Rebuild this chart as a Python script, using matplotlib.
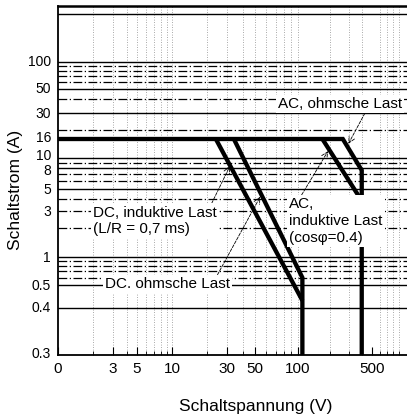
import matplotlib
matplotlib.use('Agg')
import matplotlib.pyplot as plt
import matplotlib.transforms as mtransforms
import numpy as np

plt.rcParams['font.family'] = ['Liberation Sans', 'DejaVu Sans']

# --- Data ---
# switching voltage (V) / switching current (A)
ac_res_v = [1, 265, 400, 400]
ac_res_i = [16, 16, 7.6, 0.3]
ac_ind_v = [170, 400]
ac_ind_i = [16, 3.8]
dc_res_v = [34, 110, 110]
dc_res_i = [16, 0.6, 0.3]
dc_ind_v = [24, 110]
dc_ind_i = [16, 0.43]

x_ticks = [1, 3, 5, 10, 30, 50, 100, 500]
x_ticklabels = ['0', '3', '5', '10', '30', '50', '100', '500']
y_ticks = [0.3, 0.4, 0.5, 1, 3, 5, 8, 10, 16, 30, 50, 100]
y_ticklabels = ['0.3', '0.4', '0.5', '1', '3', '5', '8', '10', '16', '30', '50', '100']

# gridlines of the printed log paper
y_grid_major = [300, 100, 50, 30, 10, 8, 5, 1, 0.5, 0.4]
y_grid_minor = [90, 80, 70, 60, 40, 20, 9, 7, 6, 4, 3, 2, 0.9, 0.8, 0.7, 0.6]
x_grid = [2, 3, 4, 5, 6, 7, 8, 9, 10, 20, 30, 40, 50, 60, 70, 80, 90,
          100, 200, 300, 400, 600, 700, 800, 900]

# the scanned paper is not a clean log scale -> piecewise log scale
X_SCALE_VAL = [1, 3, 5, 10, 30, 50, 100, 500, 1080]
X_SCALE_PX = [58, 113, 137, 172, 227, 255, 298, 372, 407]
Y_SCALE_VAL = [0.3, 0.4, 0.5, 1, 3, 5, 8, 10, 16, 30, 50, 100, 300, 400]
Y_SCALE_PX = [355, 308, 285, 257, 211, 189, 168, 158, 139, 113, 89, 62, 14, 6]


def paper_scale(vals, px, flip=False):
    lv = np.log10(vals)
    p = np.asarray(px, dtype=float)
    if flip:
        p = -p

    def fwd(v):
        with np.errstate(divide='ignore', invalid='ignore'):
            return np.interp(np.log10(v), lv, p)

    def inv(u):
        return 10 ** np.interp(u, p, lv)

    return fwd, inv


W, H = 407, 417
fig = plt.figure(figsize=(W / 100, H / 100), dpi=100)
ax = fig.add_axes([58 / W, 1 - 355 / H, (W - 58) / W, (355 - 6) / H])

ax.set_xscale('function', functions=paper_scale(X_SCALE_VAL, X_SCALE_PX))
ax.set_yscale('function', functions=paper_scale(Y_SCALE_VAL, Y_SCALE_PX, flip=True))
ax.set_xlim(1, 1080)
ax.set_ylim(0.3, 400)

# grid
for v in x_grid:
    ax.axvline(v, color='0.55', lw=0.6, ls=(0, (1, 2)), zorder=1)
for v in y_grid_major:
    ax.axhline(v, color='black', lw=1.0, zorder=1)
for v in y_grid_minor:
    ax.axhline(v, color='black', lw=0.9, ls=(0, (7, 2, 1, 2)), zorder=1)

# limit curves
style = dict(color='black', lw=3.1, solid_joinstyle='miter', solid_capstyle='butt', zorder=2)
ax.plot(ac_res_v, ac_res_i, **style)
ax.plot(ac_ind_v, ac_ind_i, **style)
ax.plot(dc_res_v, dc_res_i, **style)
ax.plot(dc_ind_v, dc_ind_i, **style)

# labels with leader lines
box = dict(boxstyle='square,pad=0.15', fc='white', ec='none')
arrow = dict(arrowstyle='->', color='black', lw=0.6, ls='--', shrinkA=0, shrinkB=1)
fs = 11


def px2ax(x, y):
    return ((x - 58) / 349, (355 - y) / 349)


ax.annotate('AC, ohmsche Last', xy=(295, 13.8), xycoords='data',
            xytext=px2ax(340, 104), textcoords='axes fraction',
            ha='center', va='center', fontsize=fs, bbox=box, zorder=4,
            arrowprops=dict(arrow, relpos=(0.71, 0)))
ax.annotate('AC,\ninduktive Last\n(cos\u03c6=0.4)', xy=(195, 12.2), xycoords='data',
            xytext=px2ax(289, 221), textcoords='axes fraction',
            ha='left', va='center', multialignment='left', linespacing=1.25,
            fontsize=fs, bbox=box, zorder=4,
            arrowprops=dict(arrow, relpos=(0.12, 1)))
ax.annotate('DC, induktive Last\n(L/R = 0,7 ms)', xy=(32, 8.6), xycoords='data',
            xytext=px2ax(93, 221), textcoords='axes fraction',
            ha='left', va='center', multialignment='left', linespacing=1.25,
            fontsize=fs, bbox=box, zorder=4,
            arrowprops=dict(arrow, relpos=(0.95, 1)))
ax.annotate('DC. ohmsche Last', xy=(55, 4.3), xycoords='data',
            xytext=px2ax(105, 284), textcoords='axes fraction',
            ha='left', va='center', fontsize=fs, bbox=box, zorder=4,
            arrowprops=dict(arrow, relpos=(0.89, 1)))

# axes styling
ax.spines['right'].set_visible(False)
ax.spines['top'].set_linewidth(1.8)
ax.spines['left'].set_linewidth(1.3)
ax.spines['bottom'].set_linewidth(1.3)

ax.set_xticks(x_ticks)
ax.set_xticklabels(x_ticklabels)
ax.set_xticks([v for v in x_grid if v not in x_ticks], minor=True)
ax.set_yticks(y_ticks)
ax.set_yticklabels(y_ticklabels, fontsize=10)
ax.yaxis.set_minor_locator(matplotlib.ticker.NullLocator())
ax.tick_params(axis='x', which='major', direction='in', length=6, width=0.8, pad=5, labelsize=fs)
ax.tick_params(axis='x', which='minor', direction='in', length=3, width=0.6)
ax.tick_params(axis='y', which='both', length=0, pad=5)

ax.set_xlabel('Schaltspannung (V)', fontsize=12.5)
ax.xaxis.set_label_coords(*px2ax(256, 407))
ax.xaxis.label.set_va('center')
ax.set_ylabel('Schaltstrom (A)', fontsize=12.5)
ax.yaxis.set_label_coords(*px2ax(15, 190))
ax.yaxis.label.set_va('center')

# in the print, some tick labels sit a little above their lines
fig.canvas.draw()
lift = {'16': 3, '10': 4, '8': -1.5, '0.3': 3, '50': 1.5}
for lab in ax.get_yticklabels():
    dy = lift.get(lab.get_text(), 1)
    lab.set_transform(lab.get_transform()
                      + mtransforms.ScaledTranslation(0, dy / 100, fig.dpi_scale_trans))

fig.savefig('out.png', dpi=100)
